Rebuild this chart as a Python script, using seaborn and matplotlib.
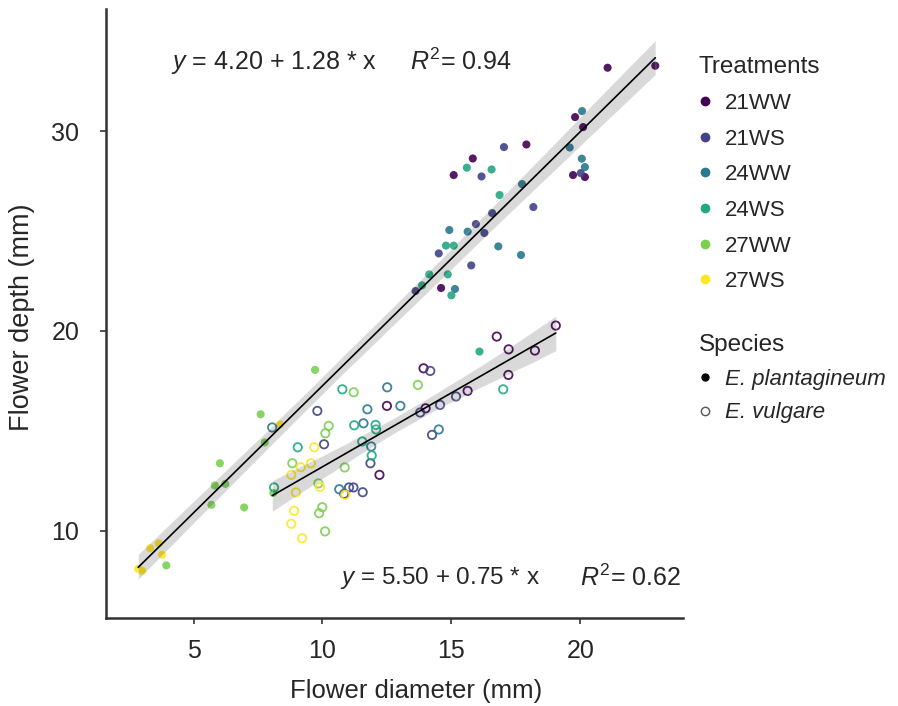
import numpy as np
import pandas as pd
import seaborn as sns
import matplotlib.pyplot as plt
from matplotlib.lines import Line2D

sns.set_style('white')
plt.rcParams['font.family'] = ['Liberation Sans', 'DejaVu Sans']
plt.rcParams['mathtext.fontset'] = 'custom'
plt.rcParams['mathtext.rm'] = 'Liberation Sans'
plt.rcParams['mathtext.it'] = 'Liberation Sans:italic'

treatments = ['21WW', '21WS', '24WW', '24WS', '27WW', '27WS']
colors = ['#440154', '#414487', '#2a788e', '#22a884', '#7ad151', '#fde725']

# E. plantagineum (filled)
pl_diam = {
    '21WW': [21.06, 22.91, 19.80, 20.11, 17.91, 15.83, 15.09, 19.72, 20.18, 14.60],
    '21WS': [17.04, 16.17, 20.02, 18.18, 16.58, 15.95, 16.28, 14.51, 15.77, 13.61],
    '24WW': [20.07, 19.59, 20.06, 20.18, 17.74, 14.92, 15.63, 16.82, 17.70, 15.14],
    '24WS': [15.60, 16.56, 16.87, 14.79, 15.09, 14.14, 14.86, 13.86, 15.00, 16.09],
    '27WW': [9.71, 7.60, 7.76, 6.02, 5.82, 6.23, 5.69, 6.96, 3.94, 8.09],
    '27WS': [8.35, 3.31, 3.65, 3.78, 2.85, 3.00],
}
pl_depth = {
    '21WW': [33.17, 33.27, 30.70, 30.20, 29.33, 28.63, 27.80, 27.80, 27.70, 22.15],
    '21WS': [29.20, 27.73, 27.90, 26.20, 25.90, 25.35, 24.90, 23.88, 23.28, 22.00],
    '24WW': [31.00, 29.18, 28.62, 28.20, 27.35, 25.05, 24.97, 24.23, 23.80, 22.10],
    '24WS': [28.17, 28.08, 26.80, 24.27, 24.27, 22.83, 22.83, 22.28, 21.78, 18.97],
    '27WW': [18.05, 15.83, 14.42, 13.38, 12.27, 12.35, 11.30, 11.17, 8.27, 11.90],
    '27WS': [15.33, 9.13, 9.37, 8.80, 8.10, 8.00],
}

# E. vulgare (open)
vu_diam = {
    '21WW': [19.05, 16.76, 17.22, 18.24, 17.21, 13.92, 15.63, 14.00, 12.21, 12.50],
    '21WS': [14.18, 15.18, 14.56, 13.79, 14.25, 9.80, 10.06, 11.86, 10.84, 11.03, 11.20, 11.56],
    '24WW': [12.51, 13.02, 11.74, 11.59, 11.89, 14.51, 8.05, 10.65],
    '24WS': [10.77, 17.01, 11.23, 12.06, 12.08, 9.04, 11.54, 11.91, 8.12],
    '27WW': [11.21, 13.70, 10.24, 10.11, 8.83, 10.86, 9.84, 9.99, 9.87, 10.10],
    '27WS': [9.68, 9.16, 9.55, 8.79, 9.90, 8.97, 10.88, 8.90, 8.79, 9.21],
}
vu_depth = {
    '21WW': [20.27, 19.72, 19.08, 19.02, 17.80, 18.13, 17.00, 16.13, 12.80, 16.25],
    '21WS': [18.00, 16.72, 16.30, 15.92, 14.80, 16.00, 14.33, 13.38, 11.85, 12.17, 12.17, 11.93],
    '24WW': [17.18, 16.25, 16.08, 15.38, 14.22, 15.07, 15.17, 12.08],
    '24WS': [17.08, 17.08, 15.28, 15.30, 15.07, 14.18, 14.47, 13.77, 12.17],
    '27WW': [16.93, 17.30, 15.25, 14.88, 13.38, 13.17, 12.37, 11.18, 10.88, 9.97],
    '27WS': [14.18, 13.18, 13.38, 12.80, 12.20, 11.92, 11.80, 11.00, 10.35, 9.63],
}


def make_df(diam, depth, species):
    rows = []
    for t in treatments:
        for d, h in zip(diam[t], depth[t]):
            rows.append({'diameter': d, 'depth': h, 'Treatments': t, 'Species': species})
    return pd.DataFrame(rows)


plant = make_df(pl_diam, pl_depth, 'E. plantagineum')
vulg = make_df(vu_diam, vu_depth, 'E. vulgare')
pal = dict(zip(treatments, colors))

fig = plt.figure(figsize=(8.98, 7.06), dpi=100)
ax = fig.add_axes([0.118, 0.125, 0.643, 0.862])

# filled points
sns.scatterplot(x='diameter', y='depth', hue='Treatments', data=plant, palette=pal,
                hue_order=treatments, s=34, linewidth=0, alpha=0.9, legend=False, ax=ax)
# open points
sns.scatterplot(x='diameter', y='depth', hue='Treatments', data=vulg, palette=pal,
                hue_order=treatments, s=36, linewidth=1.3, alpha=0.9, legend=False, ax=ax)
pts = ax.collections[-1]
pts.set_edgecolors(pts.get_facecolors())
pts.set_facecolors('none')

# regression lines with CI
for d in [plant, vulg]:
    sns.regplot(x='diameter', y='depth', data=d, scatter=False, color='black', ci=95,
                line_kws={'lw': 1.2}, ax=ax)

ax.set_xlim(1.6, 24.0)
ax.set_ylim(5.65, 36.1)
ax.set_xticks([5, 10, 15, 20])
ax.set_yticks([10, 20, 30])
ax.tick_params(axis='both', labelsize=18, length=4.3, width=1.2, color='#333333',
               bottom=True, left=True)
ax.tick_params(axis='x', pad=11)
ax.tick_params(axis='y', pad=15)
for side in ['top', 'right']:
    ax.spines[side].set_visible(False)
for side in ['left', 'bottom']:
    ax.spines[side].set_color('#333333')
    ax.spines[side].set_linewidth(1.8)
ax.set_xlabel('Flower diameter (mm)', fontsize=18.5)
ax.set_ylabel('Flower depth (mm)', fontsize=19.5)
ax.xaxis.set_label_coords(0.537, -0.1)
ax.yaxis.set_label_coords(-0.123, 0.494)

ax.text(4.14, 33.45, r'$y$ = 4.20 + 1.28 * x', fontsize=18, va='center')
ax.text(13.4, 33.45, r'$R^{\mathrm{2}}$= 0.94', fontsize=18, va='center')
ax.text(10.68, 7.65, r'$y$ = 5.50 + 0.75 * x', fontsize=17.5, va='center')
ax.text(19.98, 7.65, r'$R^{\mathrm{2}}$= 0.62', fontsize=18, va='center')

# legends
h1 = [Line2D([], [], marker='o', ls='', color=c, markersize=6) for c in colors]
leg1 = fig.legend(h1, treatments, title='Treatments', loc='upper left',
                  bbox_to_anchor=(0.768, 0.933), frameon=False, fontsize=16,
                  title_fontsize=17.5, handlelength=0.6, handletextpad=0.6,
                  labelspacing=0.66, borderaxespad=0)
leg1._legend_box.align = 'left'

h2 = [Line2D([], [], marker='o', ls='', color='black', markersize=5),
      Line2D([], [], marker='o', ls='', markerfacecolor='none', markeredgecolor='#555555',
             markeredgewidth=1, markersize=6)]
leg2 = fig.legend(h2, ['E. plantagineum', 'E. vulgare'], title='Species', loc='upper left',
                  bbox_to_anchor=(0.768, 0.54), frameon=False, fontsize=16,
                  title_fontsize=17.5, handlelength=0.6, handletextpad=0.6,
                  labelspacing=0.58, borderaxespad=0)
leg2._legend_box.align = 'left'
for t in leg2.get_texts():
    t.set_style('italic')

fig.savefig('out.png', dpi=100)
